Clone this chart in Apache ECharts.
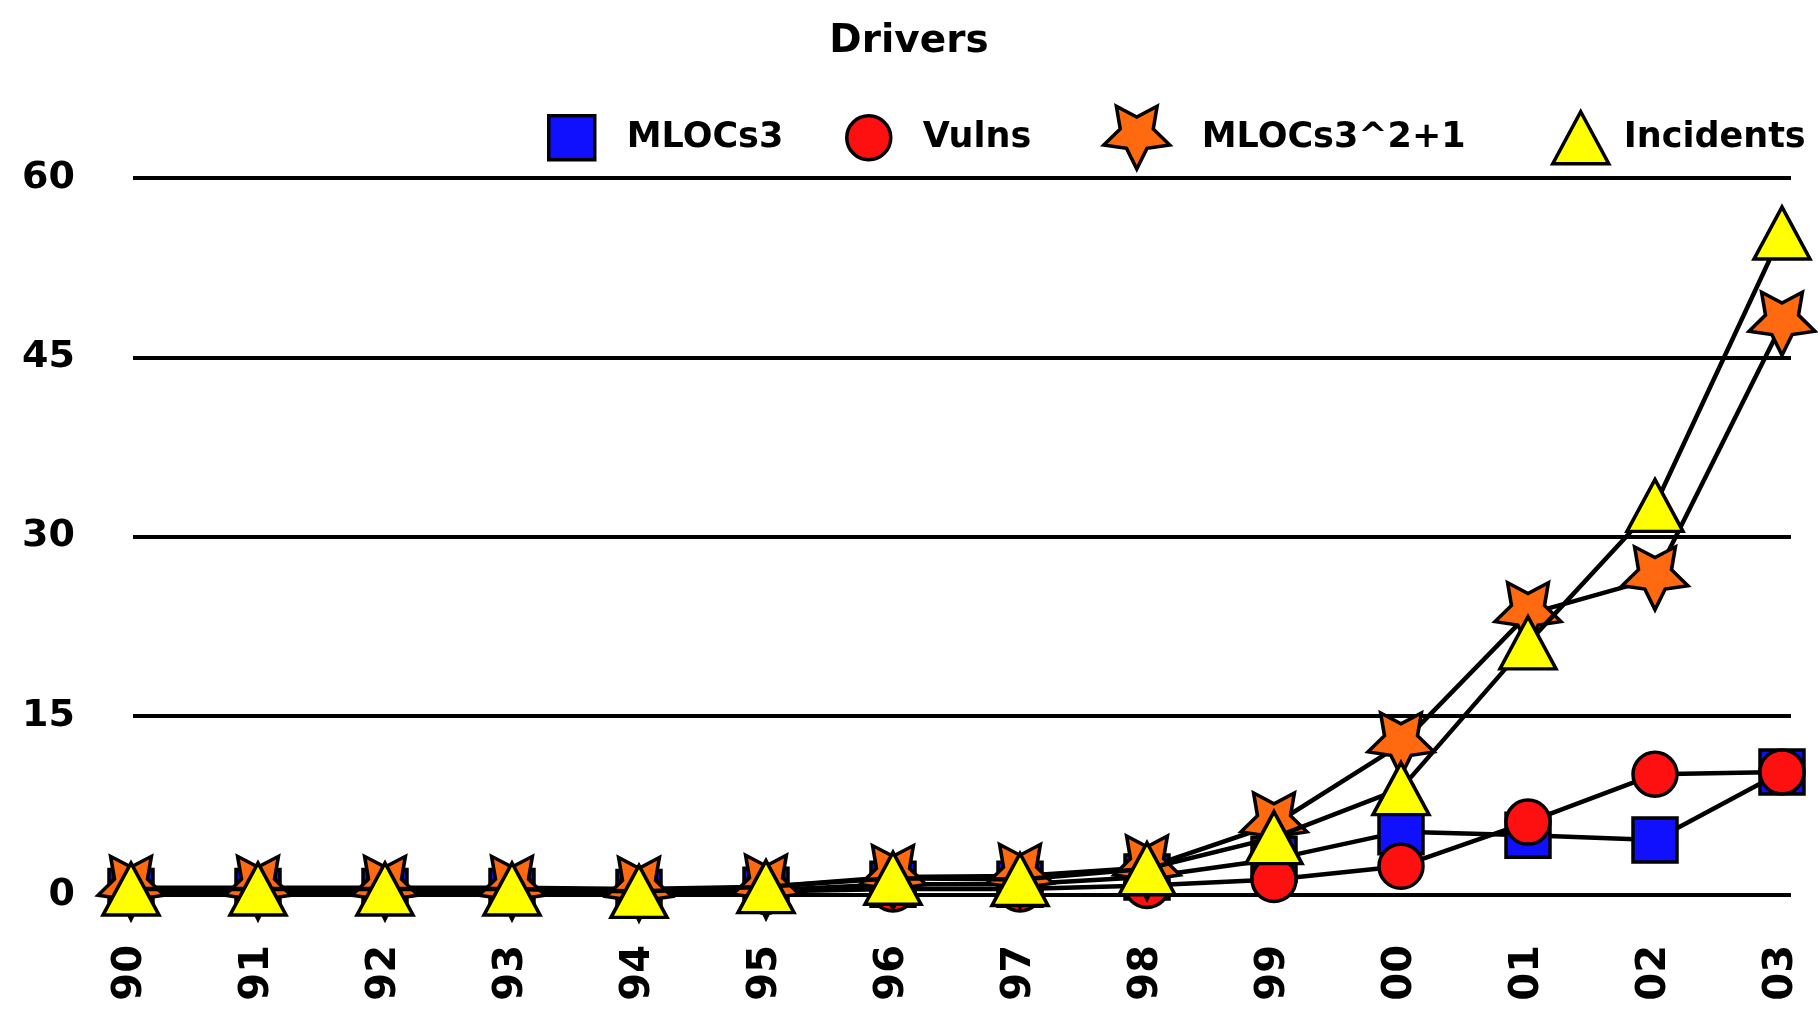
<!DOCTYPE html>
<html>
<head>
<meta charset="utf-8">
<title>Drivers</title>
<script src="https://cdn.jsdelivr.net/npm/echarts@6/dist/echarts.min.js"></script>
<style>
  html, body { margin: 0; padding: 0; background: #ffffff; }
  #chart { width: 1818px; height: 1019px; }
</style>
</head>
<body>
<div id="chart"></div>
<script>
// Years on the category axis (two-digit labels)
const years = ['90', '91', '92', '93', '94', '95', '96', '97', '98', '99', '00', '01', '02', '03'];

// Series values per year
const mlocs3     = [0.3, 0.3, 0.3, 0.3, 0.2, 0.4, 0.9, 0.9, 1.5, 3.0, 5.3, 5.0, 4.6, 10.3];
const vulns      = [0.2, 0.2, 0.2, 0.2, 0.2, 0.3, 0.5, 0.5, 0.8, 1.3, 2.4, 6.1, 10.1, 10.3];
const mlocs3Sq   = [0.6, 0.6, 0.6, 0.6, 0.5, 0.7, 1.5, 1.6, 2.3, 5.9, 12.6, 23.5, 26.5, 47.8];
const incidents  = [0.5, 0.5, 0.5, 0.5, 0.3, 0.7, 1.4, 1.3, 2.2, 4.8, 8.9, 21.1, 32.6, 55.4];

// Value axis ticks
const yTicks = [0, 15, 30, 45, 60];

const FONT = 'DejaVu Sans';

// Downward-pointing five-point star
const STAR = 'path://M100,200 L70.6,140.5 L4.9,130.9 L52.4,84.5 L41.2,19.1 L100,50 L158.8,19.1 L147.6,84.5 L195.1,130.9 L129.4,140.5 Z';

function lineSeries(name, data, symbol, size, fill, z) {
  return {
    name: name,
    type: 'line',
    data: data,
    z: z,
    symbol: symbol,
    symbolSize: size,
    showAllSymbol: true,
    lineStyle: { color: '#000', width: 4.5 },
    itemStyle: { color: fill, borderColor: '#000', borderWidth: 3.5 },
    emphasis: { disabled: true },
    silent: true
  };
}

function legendItem(name, icon, w, h, left, gap) {
  return {
    data: [name],
    icon: icon,
    left: left,
    top: 131 - h / 2,
    itemWidth: w,
    itemHeight: h,
    selectedMode: false,
    itemStyle: { borderColor: '#000', borderWidth: 3.5 },
    textStyle: {
      fontFamily: FONT, fontWeight: 'bold', fontSize: 35, color: '#000',
      padding: [0, 0, 0, gap]
    }
  };
}

const yMin = yTicks[0];
const yMax = yTicks[yTicks.length - 1];
const yStep = yTicks[1] - yTicks[0];

const chart = echarts.init(document.getElementById('chart'), null, { renderer: 'canvas' });

chart.setOption({
  animation: false,
  backgroundColor: '#ffffff',
  title: {
    text: 'Drivers',
    left: 'center',
    top: 17,
    textStyle: { fontFamily: FONT, fontWeight: 'bold', fontSize: 39, color: '#000' }
  },
  legend: [
    legendItem('MLOCs3', 'rect', 46, 44, 542, 27),
    legendItem('Vulns', 'circle', 44, 44, 840, 27),
    legendItem('MLOCs3^2+1', STAR, 66, 63, 1097, 27),
    legendItem('Incidents', 'triangle', 56, 52, 1546, 10)
  ],
  grid: [
    // plotting area for the series
    { left: 131, right: 36, top: 178, bottom: 124, containLabel: false },
    // slightly wider band carrying the horizontal rules
    { left: 133, right: 27, top: 178, bottom: 124, containLabel: false }
  ],
  xAxis: [
    {
      type: 'category',
      gridIndex: 0,
      data: years,
      boundaryGap: false,
      axisLine: { show: false },
      axisTick: { show: false },
      axisLabel: {
        rotate: 90,
        margin: 50,
        fontFamily: FONT, fontWeight: 'bold', fontSize: 40, color: '#000'
      },
      splitLine: { show: false }
    },
    {
      type: 'value',
      gridIndex: 1,
      show: false
    }
  ],
  yAxis: [
    {
      type: 'value',
      gridIndex: 0,
      min: yMin, max: yMax, interval: yStep,
      axisLine: { show: false },
      axisTick: { show: false },
      axisLabel: {
        margin: 56,
        fontFamily: FONT, fontWeight: 'bold', fontSize: 38, color: '#000'
      },
      splitLine: { show: false }
    },
    {
      type: 'value',
      gridIndex: 1,
      min: yMin, max: yMax, interval: yStep,
      axisLine: { show: false },
      axisTick: { show: false },
      axisLabel: { show: false },
      splitLine: { lineStyle: { color: '#000', width: 4 } }
    }
  ],
  series: [
    lineSeries('MLOCs3', mlocs3, 'rect', 44, '#1010ff', 2),
    lineSeries('Vulns', vulns, 'circle', 44, '#ff1010', 3),
    lineSeries('MLOCs3^2+1', mlocs3Sq, STAR, [66, 63], '#ff6a10', 4),
    lineSeries('Incidents', incidents, 'triangle', [56, 52], '#ffff00', 5)
  ]
});
</script>
</body>
</html>
